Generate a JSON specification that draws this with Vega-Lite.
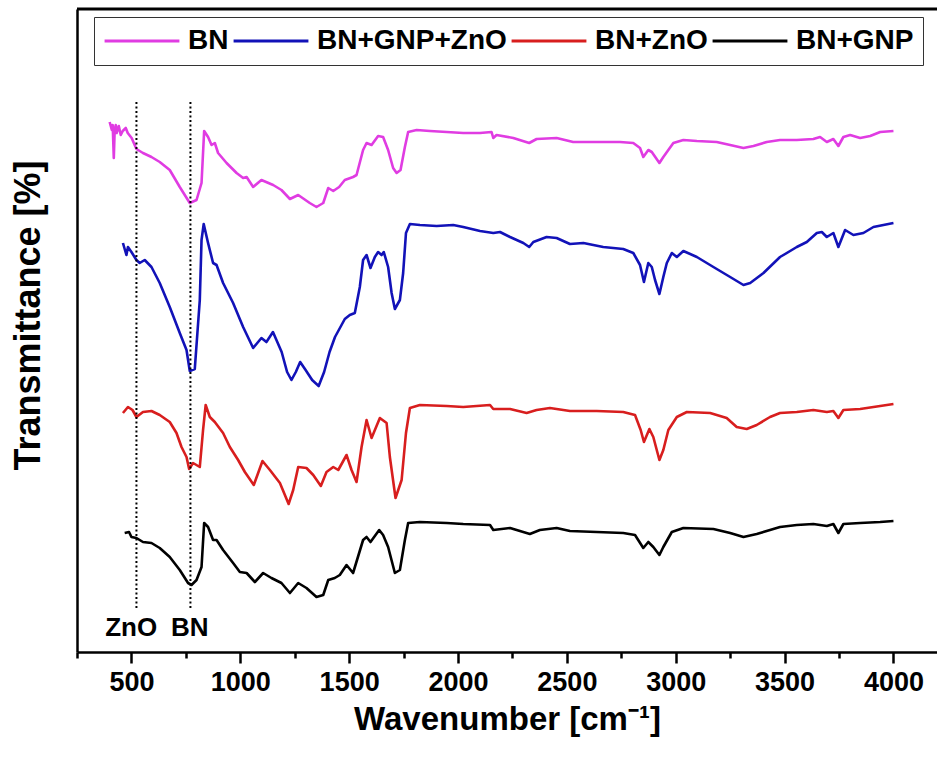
{
  "$schema": "https://vega.github.io/schema/vega-lite/v6.json",
  "autosize": {"type": "none"},
  "padding": {"left": 77, "top": 9, "right": 0, "bottom": 108},
  "width": 860,
  "height": 643,
  "background": "white",
  "config": {
    "view": {"stroke": null},
    "font": "Liberation Sans"
  },
  "datasets": {
    "spectra": [
      {"s":"BN","x":400,"y":530},{"s":"BN","x":410,"y":522},{"s":"BN","x":414,"y":527},{"s":"BN","x":419,"y":494},{"s":"BN","x":423,"y":522},{"s":"BN","x":428,"y":527},{"s":"BN","x":432,"y":519},{"s":"BN","x":442,"y":526},{"s":"BN","x":451,"y":517},{"s":"BN","x":460,"y":521},{"s":"BN","x":474,"y":524},{"s":"BN","x":483,"y":519},{"s":"BN","x":501,"y":514},{"s":"BN","x":523,"y":503},{"s":"BN","x":553,"y":499},{"s":"BN","x":592,"y":495},{"s":"BN","x":630,"y":490},{"s":"BN","x":676,"y":482},{"s":"BN","x":722,"y":465},{"s":"BN","x":768,"y":449},{"s":"BN","x":799,"y":452},{"s":"BN","x":822,"y":469},{"s":"BN","x":834,"y":521},{"s":"BN","x":852,"y":515},{"s":"BN","x":868,"y":507},{"s":"BN","x":883,"y":509},{"s":"BN","x":898,"y":499},{"s":"BN","x":937,"y":489},{"s":"BN","x":983,"y":479},{"s":"BN","x":1013,"y":474},{"s":"BN","x":1029,"y":475},{"s":"BN","x":1059,"y":465},{"s":"BN","x":1097,"y":472},{"s":"BN","x":1151,"y":467},{"s":"BN","x":1189,"y":462},{"s":"BN","x":1228,"y":453},{"s":"BN","x":1266,"y":457},{"s":"BN","x":1319,"y":449},{"s":"BN","x":1350,"y":445},{"s":"BN","x":1381,"y":449},{"s":"BN","x":1404,"y":464},{"s":"BN","x":1427,"y":461},{"s":"BN","x":1454,"y":465},{"s":"BN","x":1480,"y":472},{"s":"BN","x":1518,"y":475},{"s":"BN","x":1534,"y":477},{"s":"BN","x":1564,"y":502},{"s":"BN","x":1580,"y":509},{"s":"BN","x":1603,"y":507},{"s":"BN","x":1633,"y":516},{"s":"BN","x":1656,"y":515},{"s":"BN","x":1679,"y":502},{"s":"BN","x":1702,"y":484},{"s":"BN","x":1718,"y":479},{"s":"BN","x":1736,"y":482},{"s":"BN","x":1756,"y":505},{"s":"BN","x":1771,"y":520},{"s":"BN","x":1810,"y":522},{"s":"BN","x":1871,"y":521},{"s":"BN","x":1948,"y":520},{"s":"BN","x":2024,"y":519},{"s":"BN","x":2101,"y":519},{"s":"BN","x":2154,"y":520},{"s":"BN","x":2162,"y":514},{"s":"BN","x":2177,"y":517},{"s":"BN","x":2254,"y":514},{"s":"BN","x":2327,"y":509},{"s":"BN","x":2361,"y":513},{"s":"BN","x":2453,"y":514},{"s":"BN","x":2529,"y":510},{"s":"BN","x":2637,"y":510},{"s":"BN","x":2744,"y":510},{"s":"BN","x":2805,"y":509},{"s":"BN","x":2836,"y":504},{"s":"BN","x":2851,"y":495},{"s":"BN","x":2874,"y":502},{"s":"BN","x":2890,"y":500},{"s":"BN","x":2925,"y":489},{"s":"BN","x":2943,"y":495},{"s":"BN","x":2989,"y":509},{"s":"BN","x":3035,"y":512},{"s":"BN","x":3097,"y":511},{"s":"BN","x":3188,"y":510},{"s":"BN","x":3250,"y":507},{"s":"BN","x":3311,"y":504},{"s":"BN","x":3357,"y":506},{"s":"BN","x":3418,"y":510},{"s":"BN","x":3479,"y":512},{"s":"BN","x":3556,"y":512},{"s":"BN","x":3632,"y":513},{"s":"BN","x":3663,"y":515},{"s":"BN","x":3694,"y":510},{"s":"BN","x":3724,"y":513},{"s":"BN","x":3747,"y":506},{"s":"BN","x":3770,"y":515},{"s":"BN","x":3801,"y":517},{"s":"BN","x":3847,"y":514},{"s":"BN","x":3893,"y":516},{"s":"BN","x":3939,"y":520},{"s":"BN","x":4000,"y":521},

      {"s":"BN+GNP+ZnO","x":461,"y":409},{"s":"BN+GNP+ZnO","x":477,"y":397},{"s":"BN+GNP+ZnO","x":484,"y":405},{"s":"BN+GNP+ZnO","x":500,"y":400},{"s":"BN+GNP+ZnO","x":523,"y":392},{"s":"BN+GNP+ZnO","x":538,"y":389},{"s":"BN+GNP+ZnO","x":561,"y":392},{"s":"BN+GNP+ZnO","x":592,"y":385},{"s":"BN+GNP+ZnO","x":630,"y":369},{"s":"BN+GNP+ZnO","x":676,"y":345},{"s":"BN+GNP+ZnO","x":722,"y":319},{"s":"BN+GNP+ZnO","x":753,"y":302},{"s":"BN+GNP+ZnO","x":768,"y":281},{"s":"BN+GNP+ZnO","x":791,"y":283},{"s":"BN+GNP+ZnO","x":814,"y":352},{"s":"BN+GNP+ZnO","x":822,"y":412},{"s":"BN+GNP+ZnO","x":832,"y":428},{"s":"BN+GNP+ZnO","x":852,"y":409},{"s":"BN+GNP+ZnO","x":875,"y":389},{"s":"BN+GNP+ZnO","x":891,"y":387},{"s":"BN+GNP+ZnO","x":921,"y":369},{"s":"BN+GNP+ZnO","x":967,"y":349},{"s":"BN+GNP+ZnO","x":1013,"y":325},{"s":"BN+GNP+ZnO","x":1059,"y":304},{"s":"BN+GNP+ZnO","x":1097,"y":314},{"s":"BN+GNP+ZnO","x":1120,"y":310},{"s":"BN+GNP+ZnO","x":1150,"y":320},{"s":"BN+GNP+ZnO","x":1190,"y":300},{"s":"BN+GNP+ZnO","x":1215,"y":280},{"s":"BN+GNP+ZnO","x":1235,"y":272},{"s":"BN+GNP+ZnO","x":1255,"y":280},{"s":"BN+GNP+ZnO","x":1275,"y":290},{"s":"BN+GNP+ZnO","x":1300,"y":282},{"s":"BN+GNP+ZnO","x":1330,"y":272},{"s":"BN+GNP+ZnO","x":1360,"y":266},{"s":"BN+GNP+ZnO","x":1385,"y":280},{"s":"BN+GNP+ZnO","x":1410,"y":300},{"s":"BN+GNP+ZnO","x":1435,"y":315},{"s":"BN+GNP+ZnO","x":1460,"y":325},{"s":"BN+GNP+ZnO","x":1480,"y":333},{"s":"BN+GNP+ZnO","x":1503,"y":337},{"s":"BN+GNP+ZnO","x":1526,"y":339},{"s":"BN+GNP+ZnO","x":1549,"y":365},{"s":"BN+GNP+ZnO","x":1564,"y":392},{"s":"BN+GNP+ZnO","x":1580,"y":397},{"s":"BN+GNP+ZnO","x":1598,"y":384},{"s":"BN+GNP+ZnO","x":1618,"y":395},{"s":"BN+GNP+ZnO","x":1633,"y":400},{"s":"BN+GNP+ZnO","x":1649,"y":397},{"s":"BN+GNP+ZnO","x":1659,"y":400},{"s":"BN+GNP+ZnO","x":1679,"y":385},{"s":"BN+GNP+ZnO","x":1695,"y":359},{"s":"BN+GNP+ZnO","x":1710,"y":343},{"s":"BN+GNP+ZnO","x":1733,"y":352},{"s":"BN+GNP+ZnO","x":1748,"y":379},{"s":"BN+GNP+ZnO","x":1761,"y":419},{"s":"BN+GNP+ZnO","x":1779,"y":428},{"s":"BN+GNP+ZnO","x":1825,"y":427},{"s":"BN+GNP+ZnO","x":1902,"y":426},{"s":"BN+GNP+ZnO","x":1978,"y":427},{"s":"BN+GNP+ZnO","x":2024,"y":425},{"s":"BN+GNP+ZnO","x":2101,"y":421},{"s":"BN+GNP+ZnO","x":2162,"y":419},{"s":"BN+GNP+ZnO","x":2193,"y":420},{"s":"BN+GNP+ZnO","x":2239,"y":415},{"s":"BN+GNP+ZnO","x":2300,"y":409},{"s":"BN+GNP+ZnO","x":2327,"y":405},{"s":"BN+GNP+ZnO","x":2346,"y":410},{"s":"BN+GNP+ZnO","x":2407,"y":415},{"s":"BN+GNP+ZnO","x":2453,"y":414},{"s":"BN+GNP+ZnO","x":2514,"y":408},{"s":"BN+GNP+ZnO","x":2576,"y":409},{"s":"BN+GNP+ZnO","x":2667,"y":405},{"s":"BN+GNP+ZnO","x":2759,"y":403},{"s":"BN+GNP+ZnO","x":2805,"y":399},{"s":"BN+GNP+ZnO","x":2836,"y":387},{"s":"BN+GNP+ZnO","x":2854,"y":370},{"s":"BN+GNP+ZnO","x":2874,"y":389},{"s":"BN+GNP+ZnO","x":2890,"y":385},{"s":"BN+GNP+ZnO","x":2905,"y":372},{"s":"BN+GNP+ZnO","x":2925,"y":358},{"s":"BN+GNP+ZnO","x":2943,"y":375},{"s":"BN+GNP+ZnO","x":2959,"y":389},{"s":"BN+GNP+ZnO","x":2982,"y":399},{"s":"BN+GNP+ZnO","x":3005,"y":395},{"s":"BN+GNP+ZnO","x":3035,"y":401},{"s":"BN+GNP+ZnO","x":3097,"y":395},{"s":"BN+GNP+ZnO","x":3173,"y":385},{"s":"BN+GNP+ZnO","x":3250,"y":375},{"s":"BN+GNP+ZnO","x":3311,"y":367},{"s":"BN+GNP+ZnO","x":3342,"y":369},{"s":"BN+GNP+ZnO","x":3403,"y":379},{"s":"BN+GNP+ZnO","x":3479,"y":395},{"s":"BN+GNP+ZnO","x":3556,"y":405},{"s":"BN+GNP+ZnO","x":3602,"y":410},{"s":"BN+GNP+ZnO","x":3648,"y":419},{"s":"BN+GNP+ZnO","x":3671,"y":420},{"s":"BN+GNP+ZnO","x":3694,"y":415},{"s":"BN+GNP+ZnO","x":3724,"y":419},{"s":"BN+GNP+ZnO","x":3747,"y":405},{"s":"BN+GNP+ZnO","x":3778,"y":422},{"s":"BN+GNP+ZnO","x":3816,"y":417},{"s":"BN+GNP+ZnO","x":3862,"y":419},{"s":"BN+GNP+ZnO","x":3908,"y":425},{"s":"BN+GNP+ZnO","x":3954,"y":427},{"s":"BN+GNP+ZnO","x":4000,"y":429},

      {"s":"BN+ZnO","x":461,"y":239},{"s":"BN+ZnO","x":484,"y":245},{"s":"BN+ZnO","x":505,"y":242},{"s":"BN+ZnO","x":523,"y":235},{"s":"BN+ZnO","x":553,"y":240},{"s":"BN+ZnO","x":592,"y":241},{"s":"BN+ZnO","x":630,"y":237},{"s":"BN+ZnO","x":676,"y":230},{"s":"BN+ZnO","x":707,"y":219},{"s":"BN+ZnO","x":730,"y":205},{"s":"BN+ZnO","x":753,"y":195},{"s":"BN+ZnO","x":765,"y":183},{"s":"BN+ZnO","x":783,"y":189},{"s":"BN+ZnO","x":814,"y":185},{"s":"BN+ZnO","x":829,"y":222},{"s":"BN+ZnO","x":841,"y":247},{"s":"BN+ZnO","x":860,"y":235},{"s":"BN+ZnO","x":883,"y":230},{"s":"BN+ZnO","x":921,"y":219},{"s":"BN+ZnO","x":952,"y":205},{"s":"BN+ZnO","x":990,"y":192},{"s":"BN+ZnO","x":1021,"y":180},{"s":"BN+ZnO","x":1062,"y":167},{"s":"BN+ZnO","x":1082,"y":179},{"s":"BN+ZnO","x":1102,"y":191},{"s":"BN+ZnO","x":1136,"y":182},{"s":"BN+ZnO","x":1182,"y":169},{"s":"BN+ZnO","x":1222,"y":148},{"s":"BN+ZnO","x":1243,"y":162},{"s":"BN+ZnO","x":1266,"y":185},{"s":"BN+ZnO","x":1304,"y":184},{"s":"BN+ZnO","x":1335,"y":177},{"s":"BN+ZnO","x":1370,"y":166},{"s":"BN+ZnO","x":1396,"y":180},{"s":"BN+ZnO","x":1427,"y":185},{"s":"BN+ZnO","x":1450,"y":182},{"s":"BN+ZnO","x":1488,"y":197},{"s":"BN+ZnO","x":1511,"y":182},{"s":"BN+ZnO","x":1534,"y":170},{"s":"BN+ZnO","x":1557,"y":205},{"s":"BN+ZnO","x":1580,"y":232},{"s":"BN+ZnO","x":1603,"y":214},{"s":"BN+ZnO","x":1641,"y":234},{"s":"BN+ZnO","x":1672,"y":229},{"s":"BN+ZnO","x":1687,"y":195},{"s":"BN+ZnO","x":1713,"y":154},{"s":"BN+ZnO","x":1741,"y":172},{"s":"BN+ZnO","x":1761,"y":219},{"s":"BN+ZnO","x":1779,"y":244},{"s":"BN+ZnO","x":1825,"y":247},{"s":"BN+ZnO","x":1948,"y":246},{"s":"BN+ZnO","x":2024,"y":245},{"s":"BN+ZnO","x":2147,"y":247},{"s":"BN+ZnO","x":2162,"y":243},{"s":"BN+ZnO","x":2239,"y":243},{"s":"BN+ZnO","x":2315,"y":239},{"s":"BN+ZnO","x":2361,"y":242},{"s":"BN+ZnO","x":2422,"y":244},{"s":"BN+ZnO","x":2514,"y":241},{"s":"BN+ZnO","x":2637,"y":241},{"s":"BN+ZnO","x":2759,"y":240},{"s":"BN+ZnO","x":2813,"y":237},{"s":"BN+ZnO","x":2839,"y":222},{"s":"BN+ZnO","x":2854,"y":210},{"s":"BN+ZnO","x":2879,"y":223},{"s":"BN+ZnO","x":2897,"y":215},{"s":"BN+ZnO","x":2925,"y":192},{"s":"BN+ZnO","x":2943,"y":202},{"s":"BN+ZnO","x":2966,"y":222},{"s":"BN+ZnO","x":3005,"y":235},{"s":"BN+ZnO","x":3051,"y":240},{"s":"BN+ZnO","x":3158,"y":239},{"s":"BN+ZnO","x":3234,"y":234},{"s":"BN+ZnO","x":3280,"y":225},{"s":"BN+ZnO","x":3326,"y":223},{"s":"BN+ZnO","x":3372,"y":227},{"s":"BN+ZnO","x":3433,"y":235},{"s":"BN+ZnO","x":3479,"y":239},{"s":"BN+ZnO","x":3556,"y":240},{"s":"BN+ZnO","x":3632,"y":242},{"s":"BN+ZnO","x":3694,"y":240},{"s":"BN+ZnO","x":3724,"y":241},{"s":"BN+ZnO","x":3747,"y":234},{"s":"BN+ZnO","x":3770,"y":242},{"s":"BN+ZnO","x":3847,"y":243},{"s":"BN+ZnO","x":3939,"y":246},{"s":"BN+ZnO","x":4000,"y":248},

      {"s":"BN+GNP","x":469,"y":119},{"s":"BN+GNP","x":489,"y":120},{"s":"BN+GNP","x":500,"y":115},{"s":"BN+GNP","x":523,"y":114},{"s":"BN+GNP","x":553,"y":110},{"s":"BN+GNP","x":592,"y":109},{"s":"BN+GNP","x":630,"y":104},{"s":"BN+GNP","x":676,"y":95},{"s":"BN+GNP","x":722,"y":82},{"s":"BN+GNP","x":760,"y":69},{"s":"BN+GNP","x":776,"y":67},{"s":"BN+GNP","x":799,"y":72},{"s":"BN+GNP","x":822,"y":85},{"s":"BN+GNP","x":834,"y":129},{"s":"BN+GNP","x":852,"y":125},{"s":"BN+GNP","x":875,"y":112},{"s":"BN+GNP","x":891,"y":112},{"s":"BN+GNP","x":921,"y":102},{"s":"BN+GNP","x":967,"y":89},{"s":"BN+GNP","x":998,"y":80},{"s":"BN+GNP","x":1029,"y":79},{"s":"BN+GNP","x":1067,"y":70},{"s":"BN+GNP","x":1105,"y":79},{"s":"BN+GNP","x":1143,"y":74},{"s":"BN+GNP","x":1189,"y":69},{"s":"BN+GNP","x":1228,"y":59},{"s":"BN+GNP","x":1266,"y":69},{"s":"BN+GNP","x":1304,"y":64},{"s":"BN+GNP","x":1350,"y":55},{"s":"BN+GNP","x":1381,"y":57},{"s":"BN+GNP","x":1404,"y":72},{"s":"BN+GNP","x":1434,"y":74},{"s":"BN+GNP","x":1457,"y":77},{"s":"BN+GNP","x":1488,"y":87},{"s":"BN+GNP","x":1518,"y":79},{"s":"BN+GNP","x":1564,"y":112},{"s":"BN+GNP","x":1580,"y":115},{"s":"BN+GNP","x":1598,"y":110},{"s":"BN+GNP","x":1638,"y":122},{"s":"BN+GNP","x":1656,"y":117},{"s":"BN+GNP","x":1679,"y":105},{"s":"BN+GNP","x":1710,"y":79},{"s":"BN+GNP","x":1733,"y":82},{"s":"BN+GNP","x":1756,"y":112},{"s":"BN+GNP","x":1771,"y":129},{"s":"BN+GNP","x":1825,"y":130},{"s":"BN+GNP","x":1948,"y":129},{"s":"BN+GNP","x":2024,"y":128},{"s":"BN+GNP","x":2147,"y":127},{"s":"BN+GNP","x":2162,"y":122},{"s":"BN+GNP","x":2239,"y":124},{"s":"BN+GNP","x":2330,"y":118},{"s":"BN+GNP","x":2376,"y":122},{"s":"BN+GNP","x":2453,"y":124},{"s":"BN+GNP","x":2514,"y":121},{"s":"BN+GNP","x":2637,"y":120},{"s":"BN+GNP","x":2759,"y":119},{"s":"BN+GNP","x":2813,"y":117},{"s":"BN+GNP","x":2851,"y":104},{"s":"BN+GNP","x":2874,"y":110},{"s":"BN+GNP","x":2897,"y":105},{"s":"BN+GNP","x":2925,"y":97},{"s":"BN+GNP","x":2943,"y":105},{"s":"BN+GNP","x":2982,"y":120},{"s":"BN+GNP","x":3035,"y":124},{"s":"BN+GNP","x":3173,"y":123},{"s":"BN+GNP","x":3250,"y":119},{"s":"BN+GNP","x":3311,"y":115},{"s":"BN+GNP","x":3372,"y":118},{"s":"BN+GNP","x":3433,"y":122},{"s":"BN+GNP","x":3479,"y":125},{"s":"BN+GNP","x":3556,"y":127},{"s":"BN+GNP","x":3632,"y":128},{"s":"BN+GNP","x":3694,"y":126},{"s":"BN+GNP","x":3724,"y":128},{"s":"BN+GNP","x":3747,"y":119},{"s":"BN+GNP","x":3770,"y":128},{"s":"BN+GNP","x":3847,"y":129},{"s":"BN+GNP","x":3939,"y":130},{"s":"BN+GNP","x":4000,"y":131}
    ],
    "markers": [
      {"label": "ZnO", "x": 523, "top": 552, "bottom": 44, "tx": 499, "ty": 24},
      {"label": "BN", "x": 771, "top": 552, "bottom": 44, "tx": 768, "ty": 24}
    ],
    "frame": [{"top": 643}]
  },
  "layer": [
    {
      "data": {"name": "spectra"},
      "mark": {"type": "line", "strokeWidth": 2.6, "strokeJoin": "round", "clip": true},
      "encoding": {
        "x": {
          "field": "x", "type": "quantitative",
          "scale": {"domain": [250, 4200], "nice": false, "zero": false},
          "axis": {
            "title": "Wavenumber [cm⁻¹]",
            "values": [250, 500, 750, 1000, 1250, 1500, 1750, 2000, 2250, 2500, 2750, 3000, 3250, 3500, 3750, 4000],
            "labelExpr": "datum.value % 500 === 0 ? '' + datum.value : ''",
            "grid": false,
            "domainColor": "black", "domainWidth": 2.5,
            "tickColor": "black", "tickWidth": 2.5,
            "tickSize": {"condition": {"test": "datum.value % 500 === 0", "value": 11}, "value": 6},
            "labelFont": "Liberation Sans", "labelFontSize": 27, "labelFontWeight": "bold", "labelColor": "black", "labelPadding": 6,
            "labelFlush": false, "labelOverlap": false,
            "titleFont": "Liberation Sans", "titleFontSize": 33, "titleFontWeight": "bold", "titleColor": "black", "titlePadding": 8
          }
        },
        "y": {
          "field": "y", "type": "quantitative",
          "scale": {"domain": [0, 643], "nice": false, "zero": false},
          "axis": {
            "title": "Transmittance [%]",
            "labels": false, "ticks": false, "grid": false,
            "domainColor": "black", "domainWidth": 2.5,
            "titleFont": "Liberation Sans", "titleFontSize": 36, "titleFontWeight": "bold", "titleColor": "black", "titlePadding": 30,
            "titleY": 306
          }
        },
        "color": {
          "field": "s", "type": "nominal",
          "scale": {"domain": ["BN", "BN+GNP+ZnO", "BN+ZnO", "BN+GNP"], "range": ["#E03CE2", "#1212B8", "#D81E1E", "#000000"]},
          "legend": {
            "orient": "none", "legendX": 17, "legendY": 8,
            "direction": "horizontal", "title": null,
            "symbolType": "stroke", "symbolStrokeWidth": 3, "symbolSize": 5600,
            "clipHeight": 30,
            "labelFont": "Liberation Sans", "labelFontSize": 28, "labelFontWeight": "bold", "labelColor": "black",
            "labelLimit": 400,
            "labelOffset": 7, "columnPadding": 3, "padding": 9,
            "strokeColor": "#333333", "fillColor": "white"
          }
        }
      }
    },
    {
      "data": {"name": "markers"},
      "mark": {"type": "rule", "strokeDash": [2, 2.5], "strokeWidth": 2, "color": "black"},
      "encoding": {
        "x": {"field": "x", "type": "quantitative"},
        "y": {"field": "bottom", "type": "quantitative"},
        "y2": {"field": "top"}
      }
    },
    {
      "data": {"name": "markers"},
      "mark": {"type": "text", "font": "Liberation Sans", "fontSize": 26, "fontWeight": "bold", "color": "black", "baseline": "middle", "align": "center"},
      "encoding": {
        "x": {"field": "tx", "type": "quantitative"},
        "y": {"field": "ty", "type": "quantitative"},
        "text": {"field": "label"}
      }
    },
    {
      "data": {"name": "frame"},
      "mark": {"type": "rule", "strokeWidth": 3, "color": "black"},
      "encoding": {
        "y": {"field": "top", "type": "quantitative"}
      }
    }
  ]
}
